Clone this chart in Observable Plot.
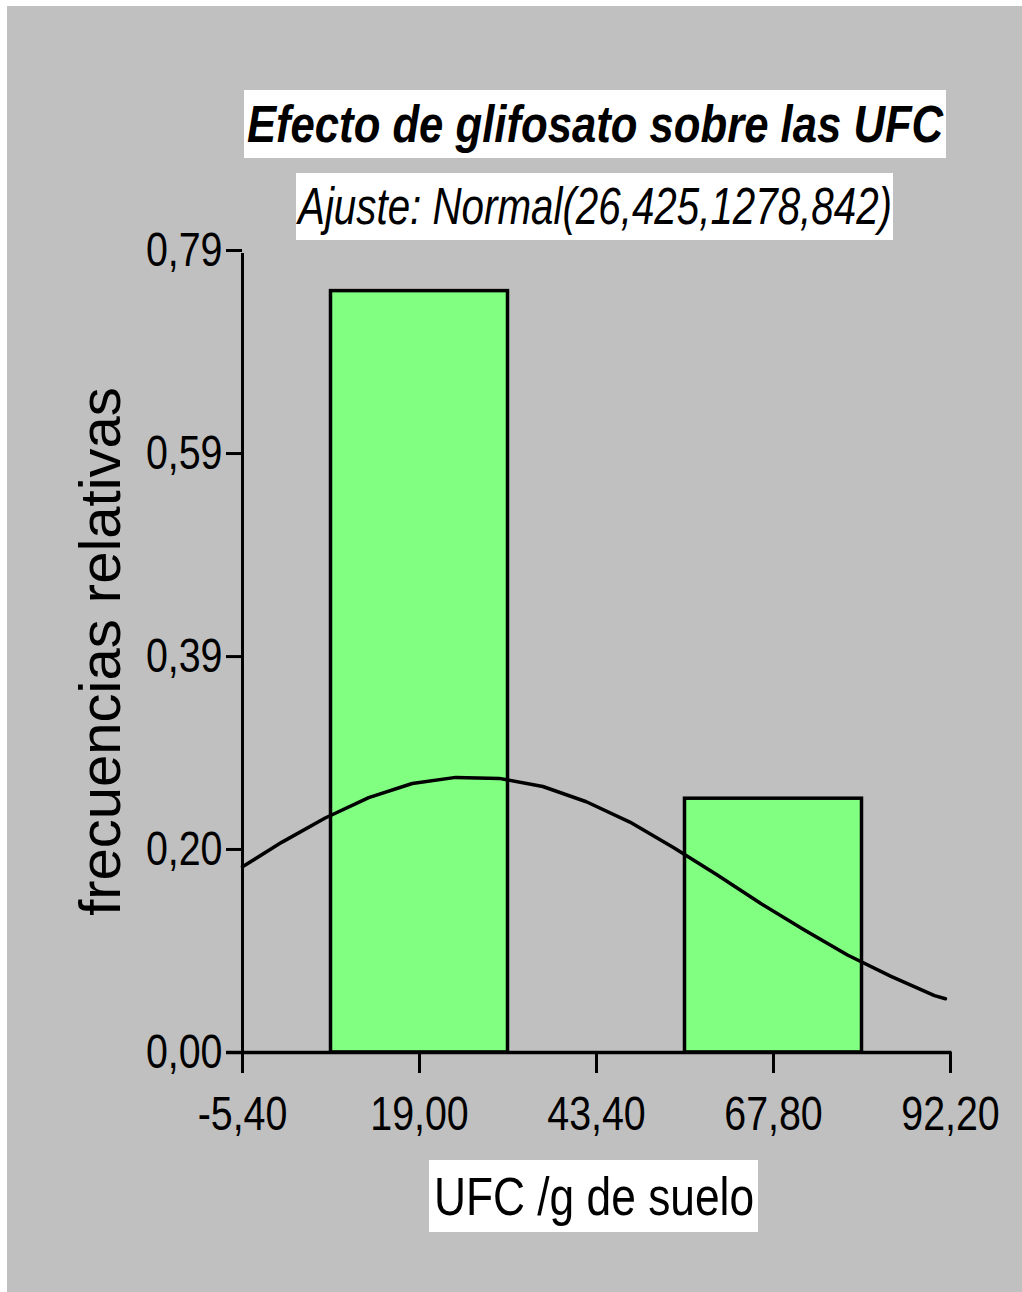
<!DOCTYPE html>
<html><head><meta charset="utf-8">
<script src="https://cdn.jsdelivr.net/npm/d3@7"></script>
<script src="https://cdn.jsdelivr.net/npm/@observablehq/plot@0.6"></script>
<style>
body{margin:0;background:#fff;}
#wrap{position:relative;width:1022px;height:1292px;background:#fff;overflow:hidden}
#bg{position:absolute;left:7px;top:6px;right:0;bottom:0;background:#c0c0c0}
#chart{position:absolute;left:0;top:0}
.box{position:absolute;background:#fff;color:#000;white-space:nowrap;overflow:visible;
 font-family:'Liberation Sans',Arial,sans-serif;}
.box span{position:absolute;left:50%;top:0;display:inline-block;transform-origin:50% 50%;}
#title{left:244px;top:90px;width:702px;height:68px;line-height:68px;font-size:52px;font-style:italic;font-weight:bold;}
#sub{left:296px;top:173px;width:597px;height:67px;line-height:67px;font-size:52px;font-style:italic;}
#xl{left:429px;top:1160px;width:329px;height:72px;line-height:72px;font-size:54px;}
</style></head>
<body>
<div id="wrap">
 <div id="bg"></div>
 <div id="chart"></div>
 <div class="box" id="title"><span data-w="696">Efecto de glifosato sobre las UFC</span></div>
 <div class="box" id="sub"><span data-w="594">Ajuste: Normal(26,425,1278,842)</span></div>
 <div class="box" id="xl"><span data-w="320">UFC /g de suelo</span></div>
</div>
<script>
// Histogram bins (class limits) and relative frequencies
const binLo = [6.8, 55.6];
const binHi = [31.2, 80.0];
const relFreq = [0.75, 0.25];
// Fitted normal curve
const curveX = [-5.4, 0, 6, 12, 18, 24, 30, 36, 42, 48, 54, 60, 66, 72, 78, 84, 90, 91.5];
const curveY = [0.183, 0.207, 0.231, 0.251, 0.265, 0.271, 0.270, 0.262, 0.247, 0.227, 0.202, 0.175, 0.147, 0.121, 0.096, 0.075, 0.056, 0.053];
const xTicks = [-5.4, 19.0, 43.4, 67.8, 92.2];
const yTicks = [0, 0.20, 0.39, 0.59, 0.79];
const yLabel = "frecuencias relativas";

const bars = binLo.map((lo, i) => ({lo, hi: binHi[i], f: relFreq[i]}));
const curve = curveX.map((x, i) => ({x, y: curveY[i]}));
const sans = "'Liberation Sans',Arial,sans-serif";
const comma = d => d.toFixed(2).replace(".", ",");

const chart = Plot.plot({
  width: 1022, height: 1292,
  marginLeft: 242, marginRight: 72, marginTop: 250, marginBottom: 240,
  style: {background: "transparent", overflow: "visible"},
  x: {domain: [-5.4, 92.2]},
  y: {domain: [0, 0.79]},
  marks: [
    Plot.rect(bars, {x1: "lo", x2: "hi", y1: 0, y2: "f", fill: "#80ff80", stroke: "#000", strokeWidth: 3.5}),
    Plot.line(curve, {x: "x", y: "y", stroke: "#000", strokeWidth: 3.5}),
    Plot.ruleX([-5.4], {y1: 0, y2: 0.787, stroke: "#000", strokeWidth: 3}),
    Plot.ruleY([0], {x1: -7.6, x2: 92.4, stroke: "#000", strokeWidth: 3.5}),
    Plot.axisY({ticks: yTicks, tickFormat: comma, tickSize: 16, tickPadding: 4,
      fontSize: 48, fontFamily: sans, label: null, stroke: "#000", strokeWidth: 3}),
    Plot.axisX({ticks: xTicks, tickFormat: comma, tickSize: 21, tickPadding: 22,
      fontSize: 48, fontFamily: sans, label: null, strokeWidth: 3}),
    Plot.text([yLabel], {frameAnchor: "left", dx: -141, rotate: -90, fontSize: 58,
      textAnchor: "middle", lineAnchor: "middle", fontFamily: sans, fill: "#000"})
  ]
});
chart.querySelectorAll("text").forEach(t => t.setAttribute("fill", "#000"));
document.getElementById("chart").appendChild(chart);
// condense tick labels to the narrow face of the reference
chart.querySelectorAll('g[aria-label="y-axis tick label"] text, g[aria-label="x-axis tick label"] text').forEach(t => {
  const L = t.getComputedTextLength();
  t.setAttribute("textLength", (L * 0.82).toFixed(1));
  t.setAttribute("lengthAdjust", "spacingAndGlyphs");
});
document.querySelectorAll(".box span").forEach(s => {
  const k = +s.dataset.w / s.offsetWidth;
  s.style.transform = `translateX(-50%) scaleX(${k})`;
});
</script>
</body></html>
